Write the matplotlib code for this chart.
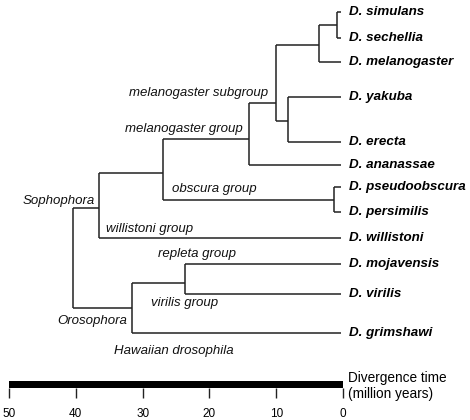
import matplotlib
matplotlib.use("Agg")
import matplotlib.pyplot as plt

plt.rcParams['font.family'] = ['Liberation Sans', 'DejaVu Sans']

# species (tips), their row in the drawing and tip age (million years)
species = ['D. simulans', 'D. sechellia', 'D. melanogaster', 'D. yakuba', 'D. erecta',
           'D. ananassae', 'D. pseudoobscura', 'D. persimilis', 'D. willistoni',
           'D. mojavensis', 'D. virilis', 'D. grimshawi']
tip_rows = [12, 38, 62, 97, 142, 165, 187, 212, 238, 264, 294, 333]
tip_age = 0.3

# internal nodes: name -> (age in My, row, children)
nodes = {
    'simsec':   (0.9, 25, ['D. simulans', 'D. sechellia']),
    'simcplx':  (3.6, 45, ['simsec', 'D. melanogaster']),
    'yakere':   (8.3, 121, ['D. yakuba', 'D. erecta']),
    'melsub':   (10.0, 103, ['simcplx', 'yakere']),
    'melgrp':   (14.0, 139, ['melsub', 'D. ananassae']),
    'pseper':   (1.3, 200, ['D. pseudoobscura', 'D. persimilis']),
    'melobs':   (26.9, 173, ['melgrp', 'pseper']),
    'soph':     (36.6, 208, ['melobs', 'D. willistoni']),
    'repvir':   (23.7, 283, ['D. mojavensis', 'D. virilis']),
    'oroso':    (31.6, 308, ['repvir', 'D. grimshawi']),
    'root':     (40.4, 0, ['soph', 'oroso']),
}

# clade labels: text, age, row, alignment
clade_labels = [
    ('melanogaster subgroup', 11.2, 93, 'right'),
    ('melanogaster group', 15.0, 129, 'right'),
    ('obscura group', 25.6, 189, 'left'),
    ('Sophophora', 37.1, 201, 'right'),
    ('willistoni group', 35.5, 229, 'left'),
    ('repleta group', 27.7, 254, 'left'),
    ('virilis group', 28.7, 303, 'left'),
    ('Orosophora', 32.3, 321, 'right'),
    ('Hawaiian drosophila', 34.3, 351, 'left'),
]

scale_ticks = [50, 40, 30, 20, 10, 0]

fig = plt.figure(figsize=(4.7, 4.2), dpi=100)
ax = fig.add_axes([0, 0, 1, 1])
ax.set_xlim(343 / 6.68, (343 - 470) / 6.68)
ax.set_ylim(420, 0)
ax.axis('off')

pos = {name: (tip_age, row) for name, row in zip(species, tip_rows)}
for name, (age, row, kids) in nodes.items():
    pos[name] = (age, row)

lc = '#222222'
for name, (age, row, kids) in nodes.items():
    rows = [pos[k][1] for k in kids]
    ax.plot([age, age], [min(rows), max(rows)], color=lc, lw=1.1, solid_capstyle='butt')
    for k in kids:
        ax.plot([age, pos[k][0]], [pos[k][1], pos[k][1]], color=lc, lw=1.1,
                solid_capstyle='butt')

for name, row in zip(species, tip_rows):
    ax.text(-0.9, row, name, ha='left', va='center', fontsize=9.6,
            fontweight='bold', fontstyle='italic')

for text, age, row, ha in clade_labels:
    ax.text(age, row, text, ha=ha, va='center', fontsize=9.5, fontstyle='italic',
            color='#111111')

ax.text(-0.75, 386, 'Divergence time\n(million years)', ha='left', va='center',
        fontsize=9.8, linespacing=1.1)

# time scale bar
sax = fig.add_axes([9 / 470, 1 - 388 / 420, 334 / 470, 7 / 420])
sax.set_facecolor('black')
sax.set_xlim(50, 0)
sax.set_ylim(0, 1)
sax.set_yticks([])
sax.set_xticks(scale_ticks)
sax.set_xticklabels([str(t) for t in scale_ticks], fontsize=8.5)
sax.tick_params(axis='x', direction='out', length=7, width=1.0, pad=7.5, color='#222222')
for s in sax.spines.values():
    s.set_visible(False)

fig.savefig('out.png', dpi=100)
